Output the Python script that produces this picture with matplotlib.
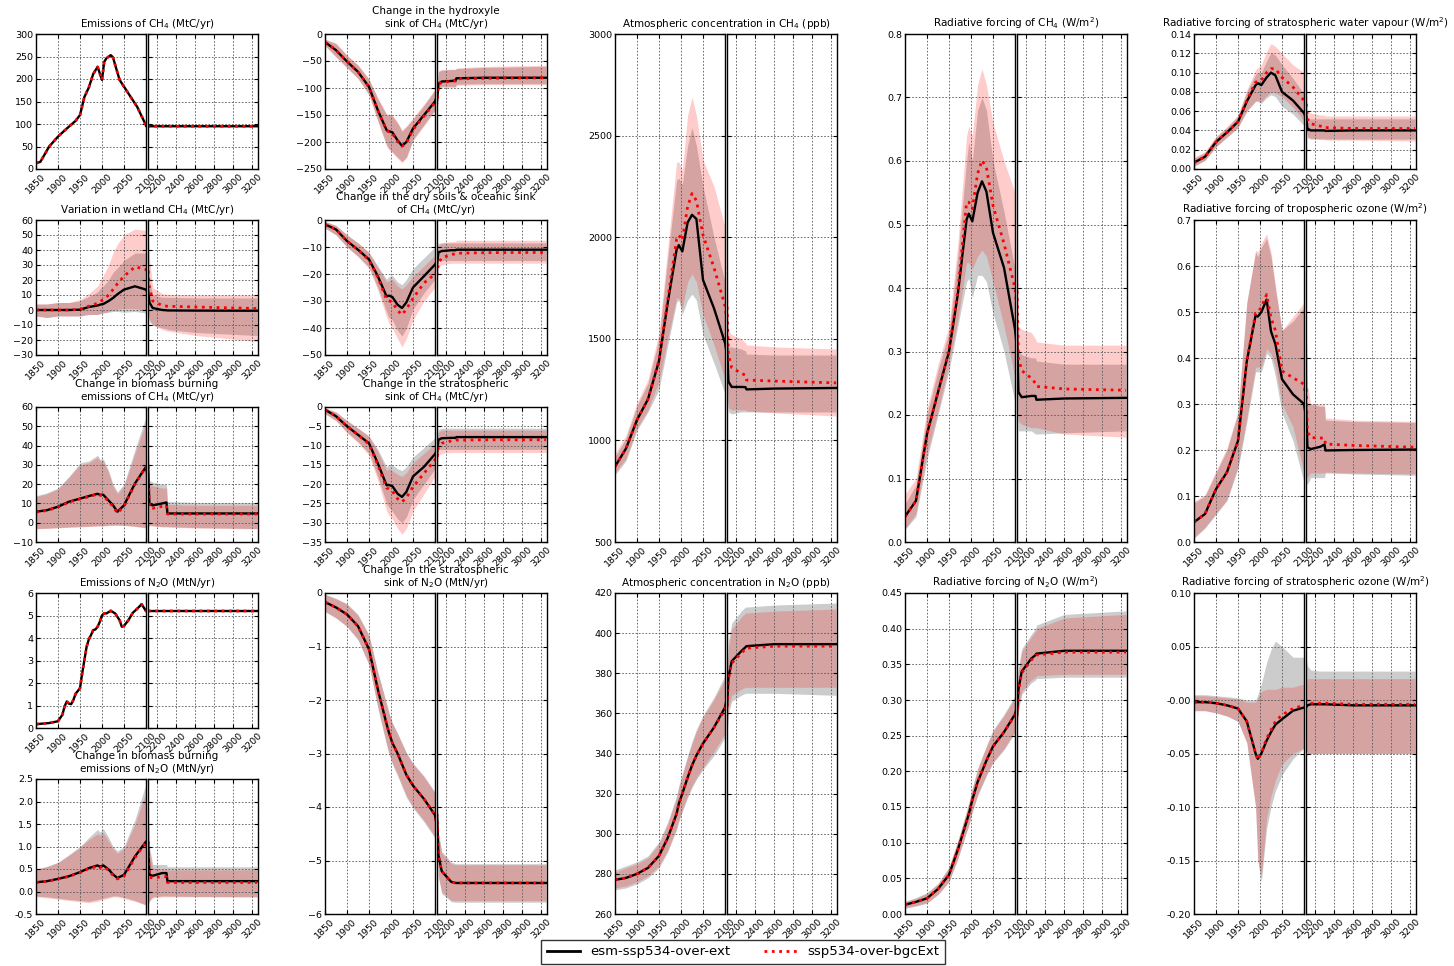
import numpy as np
import matplotlib.pyplot as plt
from matplotlib.lines import Line2D

W, H = 1454, 966

# ---------------- data ----------------
# shared time axis for the panels with uncertainty bands
yr = [1850, 1875, 1900, 1925, 1950, 1970, 1990, 1995, 2003, 2015, 2025, 2035, 2050,
      2075, 2100, 2115, 2150, 2250, 2295, 2305, 2600, 3250]

# Emissions of CH4 (no band, both runs identical)
ch4_emi_yr = [1850, 1860, 1880, 1900, 1920, 1940, 1950, 1960, 1970, 1980, 1990, 2000, 2005,
              2010, 2020, 2025, 2030, 2040, 2060, 2080, 2100, 2100.5, 3250]
ch4_emi = [12.6, 16, 50, 72, 90, 107, 120, 160, 181, 211, 227, 198, 238,
           246, 253, 248, 231, 198, 168, 138, 97, 95, 95]

# Emissions of N2O
n2o_emi_yr = [1850, 1880, 1900, 1910, 1915, 1920, 1925, 1930, 1935, 1940, 1950, 1955, 1965,
              1970, 1975, 1980, 1985, 1990, 1995, 2000, 2005, 2010, 2020, 2030, 2040, 2045,
              2050, 2060, 2070, 2080, 2090, 2100, 2100.5, 3250]
n2o_emi = [0.17, 0.22, 0.3, 0.59, 0.96, 1.18, 1.08, 1.06, 1.25, 1.52, 1.77, 2.43, 3.61,
           3.94, 4.13, 4.35, 4.38, 4.5, 4.72, 5.0, 5.1, 5.09, 5.21, 5.09, 4.79, 4.5,
           4.54, 4.79, 5.12, 5.3, 5.5, 5.2, 5.2, 5.2]

# Change in the hydroxyle sink of CH4
oh_esm = [-15, -30, -51, -70, -98, -141, -178, -180, -182, -197, -207, -200, -175, -150, -125, -92, -88, -87, -86, -82, -81, -81]
oh_ssp = [-15, -30, -51, -70, -98, -141, -179, -181, -184, -199, -208, -202, -177, -152, -127, -94, -89, -88, -87, -83, -82, -81]
oh_esm_lo = [-21, -42, -62, -82, -112, -160, -205, -212, -218, -228, -236, -228, -195, -168, -140, -100, -97, -97, -97, -93, -92, -92]
oh_esm_hi = [-10, -18, -40, -58, -84, -120, -150, -150, -152, -165, -180, -172, -158, -132, -104, -70, -67, -66, -66, -64, -62, -60]
oh_ssp_lo = [-22, -43, -63, -83, -113, -162, -208, -214, -220, -231, -238, -230, -198, -170, -142, -102, -99, -99, -99, -95, -94, -94]
oh_ssp_hi = [-9, -17, -39, -57, -83, -118, -148, -148, -150, -163, -178, -170, -155, -130, -102, -68, -66, -65, -65, -63, -60, -58]

# Variation in wetland CH4
wet_esm = [0, 0, 0, 0, 0.2, 2, 3, 3.5, 4, 6, 8, 10.5, 13.6, 15.8, 13.6, 5, 1.3, 0, -0.2, -0.3, -0.4, -0.5]
wet_ssp = [0, 0, 0, 0, 0.5, 2.5, 4.5, 5.5, 7, 10, 13.6, 17.5, 22.5, 28.8, 27, 15, 6, 3, 2.6, 2.5, 2, 1]
wet_esm_lo = [-4, -5, -4, -4, -4, -3, -3, -2.5, -2, -1.5, -1, -1, -1.5, -1, -2, -8, -10, -12, -12.5, -13, -15, -17]
wet_esm_hi = [4, 4, 5, 5, 6, 9, 12, 14, 16, 20, 25, 28, 33, 38, 38, 20, 10, 8.5, 8.5, 8.5, 8, 8]
wet_ssp_lo = [-4, -5, -4, -4, -4, -3, -3, -2.5, -2, -1, 0, 0.5, 1, 1, 0, -6, -10, -13, -14, -14, -17, -21]
wet_ssp_hi = [4, 4, 5, 5, 7, 11, 16, 19, 23, 30, 38, 44, 50, 54, 53, 35, 15, 11, 10.5, 10.5, 10, 10]

# Change in the dry soils & oceanic sink of CH4
soil_esm = [-1.6, -3.5, -7.8, -11, -14.6, -20.8, -28.3, -28, -28.5, -31.4, -32.6, -30.5, -25, -20.8, -16.5, -12, -11.5, -11.2, -11.2, -11, -11, -11]
soil_ssp = [-1.6, -3.5, -7.8, -11, -14.8, -21.2, -29.5, -29.8, -30.5, -33.5, -35.1, -33, -29, -23.3, -20, -16, -14, -12.8, -12.5, -12.3, -12.1, -12]
soil_esm_lo = [-3, -5.5, -10, -13.5, -17.5, -25, -34, -36, -37, -41, -43, -40, -33, -27, -22, -15, -15, -15, -15, -15, -15, -15]
soil_esm_hi = [-0.5, -2, -5.5, -8.5, -12, -17, -22, -21, -20.5, -23, -24, -22, -18, -14, -10, -8.5, -8.5, -8.5, -8.5, -8.5, -8.5, -8.5]
soil_ssp_lo = [-3, -5.5, -10, -13.5, -18, -26, -36, -38, -40, -44, -47, -44, -37, -30, -25, -17.5, -16.5, -16, -16, -16, -16, -16]
soil_ssp_hi = [-0.5, -2, -5.5, -8.5, -12, -17.5, -23, -22.5, -22, -24.5, -25.5, -24, -21, -17, -13, -9.5, -8.5, -8, -8, -7.5, -7.5, -7.5]

# Change in biomass burning emissions of CH4
bb4_esm = [5.7, 6.5, 8.3, 10.9, 12.5, 13.8, 15, 14.5, 14.5, 11.5, 9.1, 5.7, 9, 20.4, 29, 9.5, 9, 10, 10.5, 4.8, 4.8, 4.8]
bb4_ssp = [5.5, 6.3, 8.1, 10.7, 12.3, 13.5, 14.8, 14.3, 14, 11, 8.5, 5, 8.5, 20, 29, 8, 7.5, 8.5, 9, 4.5, 4.5, 4.5]
bb4_esm_lo = [-3, -2.8, -2.5, -2.2, -2, -1.8, -1.5, -1.5, -1.5, -1.3, -1.2, -1.2, -1.3, -1.8, -2.5, -1.2, -1.5, -2, -2, -2, -2.5, -3]
bb4_esm_hi = [14, 15.5, 18, 24, 31, 32, 35, 33, 33, 27, 20, 16, 20, 38, 55, 22, 21, 20, 20, 11, 10.5, 10.5]
bb4_ssp_lo = [-3.2, -3, -2.7, -2.4, -2.2, -2, -1.8, -1.8, -1.8, -1.5, -1.4, -1.4, -1.5, -2, -2.8, -1.5, -1.8, -2.2, -2.2, -2.3, -2.8, -3.2]
bb4_ssp_hi = [13.5, 15, 17.5, 23.5, 30, 31, 34, 32, 32, 26, 19, 15, 19, 36, 52, 20, 19, 18, 18, 9.5, 9, 9]

# Change in the stratospheric sink of CH4
st4_esm = [-0.7, -2.4, -5, -7.2, -9.4, -14.6, -20.3, -20.2, -20.5, -22.5, -23.3, -22, -18, -15.5, -12.2, -8.5, -8.1, -8, -8, -7.8, -7.8, -7.8]
st4_ssp = [-0.7, -2.4, -5, -7.2, -9.6, -15, -21, -21.2, -21.8, -23.8, -24.6, -23.5, -20.7, -17.2, -13.7, -10.3, -9.4, -8.8, -8.7, -8.6, -8.5, -8.5]
st4_esm_lo = [-1.7, -3.5, -6.5, -9, -12, -18, -25, -26, -27, -29, -30, -28.5, -24, -20, -16, -11, -11, -11, -11, -11, -11, -11]
st4_esm_hi = [-0.2, -1.3, -3.5, -5.5, -7.5, -11, -15.5, -15, -15, -16, -16.5, -15.5, -13, -10.5, -8, -5.8, -5.5, -5.5, -5.5, -5.5, -5.5, -5.5]
st4_ssp_lo = [-1.8, -3.6, -6.7, -9.3, -12.5, -19, -27, -28, -29, -31.5, -33, -31.5, -27, -22.5, -18, -12.5, -12, -11.8, -11.8, -11.8, -11.8, -11.8]
st4_ssp_hi = [-0.2, -1.3, -3.5, -5.5, -7.6, -11.5, -16.5, -16, -16.5, -17.5, -18, -17, -14.5, -12, -9.5, -6.5, -6, -6, -6, -6, -6, -6]

# Change in biomass burning emissions of N2O
bbn_esm = [0.204, 0.23, 0.28, 0.34, 0.43, 0.52, 0.58, 0.55, 0.58, 0.49, 0.38, 0.30, 0.37, 0.78, 1.11, 0.37, 0.35, 0.41, 0.41, 0.23, 0.23, 0.23]
bbn_ssp = [0.2, 0.225, 0.275, 0.335, 0.42, 0.51, 0.56, 0.53, 0.56, 0.47, 0.36, 0.28, 0.34, 0.75, 1.1, 0.32, 0.30, 0.33, 0.33, 0.20, 0.20, 0.20]
bbn_esm_lo = [-0.1, -0.12, -0.15, -0.18, -0.2, -0.22, -0.18, -0.17, -0.15, -0.12, -0.1, -0.1, -0.13, -0.2, -0.3, -0.2, -0.12, -0.1, -0.1, -0.1, -0.11, -0.12]
bbn_esm_hi = [0.5, 0.56, 0.65, 0.82, 1.0, 1.2, 1.38, 1.32, 1.4, 1.2, 1.0, 0.9, 1.0, 1.6, 2.4, 1.0, 0.6, 0.6, 0.6, 0.55, 0.55, 0.55]
bbn_ssp_lo = [-0.12, -0.14, -0.17, -0.2, -0.23, -0.25, -0.22, -0.2, -0.18, -0.15, -0.12, -0.12, -0.16, -0.22, -0.3, -0.22, -0.14, -0.12, -0.12, -0.12, -0.12, -0.12]
bbn_ssp_hi = [0.5, 0.55, 0.64, 0.8, 0.98, 1.15, 1.28, 1.25, 1.3, 1.12, 0.95, 0.85, 0.95, 1.5, 2.2, 0.9, 0.52, 0.5, 0.5, 0.48, 0.48, 0.48]

# Change in the stratospheric sink of N2O
stn_esm = [-0.17, -0.27, -0.4, -0.62, -1.05, -1.8, -2.45, -2.6, -2.8, -3.0, -3.2, -3.4, -3.6, -3.85, -4.15, -4.9, -5.2, -5.4, -5.42, -5.42, -5.42, -5.42]
stn_ssp = stn_esm
stn_esm_lo = [-0.35, -0.47, -0.63, -0.88, -1.35, -2.15, -2.85, -3.0, -3.2, -3.42, -3.62, -3.82, -4.02, -4.28, -4.58, -5.32, -5.62, -5.77, -5.78, -5.78, -5.78, -5.78]
stn_esm_hi = [-0.02, -0.1, -0.2, -0.4, -0.78, -1.47, -2.07, -2.22, -2.42, -2.62, -2.8, -2.98, -3.18, -3.42, -3.72, -4.48, -4.83, -5.03, -5.06, -5.06, -5.06, -5.06]
stn_ssp_lo = [-0.34, -0.46, -0.62, -0.86, -1.33, -2.12, -2.82, -2.97, -3.17, -3.39, -3.59, -3.79, -3.99, -4.25, -4.55, -5.29, -5.59, -5.74, -5.75, -5.75, -5.75, -5.75]
stn_ssp_hi = [-0.03, -0.11, -0.21, -0.42, -0.8, -1.49, -2.09, -2.24, -2.44, -2.64, -2.82, -3.0, -3.2, -3.44, -3.74, -4.5, -4.86, -5.06, -5.08, -5.08, -5.08, -5.08]

# Atmospheric concentration in CH4
ch4c_esm = [871, 960, 1101, 1203, 1391, 1680, 1939, 1961, 1930, 2072, 2110, 2090, 1790, 1650, 1480, 1289, 1263, 1263, 1262, 1251, 1255, 1258]
ch4c_ssp = [871, 960, 1101, 1203, 1395, 1695, 1990, 2010, 1985, 2150, 2215, 2180, 2010, 1850, 1663, 1420, 1357, 1331, 1320, 1297, 1292, 1283]
ch4c_esm_lo = [830, 900, 1050, 1140, 1250, 1470, 1680, 1690, 1620, 1690, 1720, 1690, 1520, 1380, 1230, 1140, 1130, 1140, 1140, 1140, 1140, 1140]
ch4c_esm_hi = [920, 1010, 1170, 1280, 1500, 1900, 2280, 2290, 2260, 2450, 2540, 2450, 2250, 2000, 1780, 1460, 1460, 1450, 1440, 1425, 1420, 1420]
ch4c_ssp_lo = [840, 910, 1060, 1150, 1290, 1500, 1700, 1700, 1650, 1780, 1820, 1780, 1620, 1470, 1300, 1160, 1150, 1150, 1150, 1145, 1135, 1120]
ch4c_ssp_hi = [935, 1025, 1185, 1300, 1530, 1950, 2370, 2370, 2330, 2600, 2690, 2600, 2380, 2250, 2050, 1540, 1520, 1500, 1480, 1470, 1460, 1450]

# Atmospheric concentration in N2O
n2oc_esm = [277, 278, 280, 283, 289, 298, 310, 315, 320, 328, 334, 339, 345, 353, 363, 378, 386, 391, 393, 393.5, 394.5, 394.5]
n2oc_ssp = [277, 278, 280, 283, 289, 298, 310, 315, 320, 328, 334, 339, 345, 353, 362, 377, 385, 390, 392, 392.5, 393.5, 393.5]
n2oc_esm_lo = [272, 273, 275, 278, 283, 291, 302, 306, 311, 318, 323, 327, 332, 339, 348, 360, 366, 369, 370, 370, 370, 369]
n2oc_esm_hi = [282, 284, 286, 289, 296, 306, 319, 324, 330, 339, 346, 352, 359, 368, 379, 396, 405, 411, 413, 413, 414, 415]
n2oc_ssp_lo = [273, 274, 276, 279, 284, 292, 303, 307, 312, 319, 324, 328, 333, 341, 350, 363, 369, 372, 373, 373, 373, 373]
n2oc_ssp_hi = [281, 283, 285, 288, 295, 305, 318, 323, 329, 338, 345, 351, 358, 367, 377, 393, 402, 408, 410, 410, 411, 412]

# Radiative forcing of CH4
rf4_esm = [0.040, 0.065, 0.17, 0.236, 0.30, 0.39, 0.508, 0.517, 0.505, 0.55, 0.568, 0.552, 0.487, 0.432, 0.335, 0.236, 0.228, 0.23, 0.23, 0.224, 0.226, 0.227]
rf4_ssp = [0.040, 0.065, 0.17, 0.236, 0.302, 0.395, 0.535, 0.535, 0.525, 0.58, 0.601, 0.59, 0.53, 0.47, 0.40, 0.29, 0.27, 0.258, 0.25, 0.245, 0.241, 0.239]
rf4_esm_lo = [0.02, 0.04, 0.13, 0.2, 0.27, 0.34, 0.41, 0.415, 0.385, 0.42, 0.42, 0.41, 0.36, 0.30, 0.22, 0.175, 0.175, 0.175, 0.17, 0.17, 0.172, 0.175]
rf4_esm_hi = [0.06, 0.09, 0.2, 0.27, 0.33, 0.45, 0.6, 0.63, 0.6, 0.68, 0.7, 0.68, 0.6, 0.52, 0.43, 0.3, 0.295, 0.29, 0.29, 0.285, 0.28, 0.28]
rf4_ssp_lo = [0.02, 0.045, 0.14, 0.205, 0.28, 0.35, 0.44, 0.44, 0.43, 0.45, 0.46, 0.45, 0.41, 0.34, 0.26, 0.19, 0.185, 0.18, 0.18, 0.18, 0.17, 0.165]
rf4_ssp_hi = [0.075, 0.1, 0.21, 0.28, 0.34, 0.47, 0.64, 0.655, 0.64, 0.72, 0.745, 0.72, 0.66, 0.6, 0.55, 0.34, 0.335, 0.33, 0.32, 0.315, 0.31, 0.31]

# Radiative forcing of N2O
rfn_esm = [0.013, 0.017, 0.022, 0.035, 0.055, 0.09, 0.13, 0.14, 0.16, 0.185, 0.20, 0.215, 0.235, 0.255, 0.28, 0.315, 0.34, 0.358, 0.363, 0.365, 0.369, 0.369]
rfn_ssp = [0.013, 0.017, 0.022, 0.035, 0.055, 0.09, 0.13, 0.14, 0.16, 0.185, 0.20, 0.215, 0.235, 0.255, 0.279, 0.313, 0.338, 0.356, 0.361, 0.363, 0.367, 0.367]
rfn_esm_lo = [0.008, 0.011, 0.015, 0.027, 0.045, 0.077, 0.115, 0.124, 0.143, 0.166, 0.18, 0.194, 0.212, 0.23, 0.254, 0.285, 0.308, 0.324, 0.328, 0.33, 0.332, 0.332]
rfn_esm_hi = [0.018, 0.023, 0.03, 0.043, 0.066, 0.103, 0.145, 0.156, 0.177, 0.204, 0.22, 0.236, 0.258, 0.28, 0.306, 0.345, 0.372, 0.392, 0.4, 0.405, 0.42, 0.425]
rfn_ssp_lo = [0.009, 0.012, 0.016, 0.028, 0.046, 0.078, 0.116, 0.125, 0.144, 0.167, 0.181, 0.195, 0.213, 0.232, 0.256, 0.288, 0.312, 0.328, 0.332, 0.334, 0.336, 0.336]
rfn_ssp_hi = [0.017, 0.022, 0.029, 0.042, 0.065, 0.102, 0.144, 0.155, 0.176, 0.203, 0.219, 0.234, 0.256, 0.278, 0.303, 0.34, 0.368, 0.388, 0.396, 0.4, 0.415, 0.42]

# Radiative forcing of stratospheric water vapour
wv_esm = [0.0066, 0.0127, 0.028, 0.038, 0.049, 0.070, 0.087, 0.089, 0.087, 0.095, 0.100, 0.097, 0.080, 0.071, 0.058, 0.042, 0.040, 0.040, 0.040, 0.0395, 0.040, 0.040]
wv_ssp = [0.0066, 0.0127, 0.028, 0.038, 0.049, 0.071, 0.090, 0.091, 0.092, 0.100, 0.104, 0.104, 0.095, 0.085, 0.071, 0.052, 0.047, 0.0445, 0.044, 0.043, 0.042, 0.042]
wv_esm_lo = [0.003, 0.009, 0.023, 0.033, 0.043, 0.060, 0.070, 0.07, 0.068, 0.074, 0.077, 0.075, 0.065, 0.057, 0.045, 0.032, 0.031, 0.031, 0.031, 0.031, 0.031, 0.031]
wv_esm_hi = [0.011, 0.017, 0.033, 0.043, 0.055, 0.08, 0.098, 0.1, 0.1, 0.112, 0.121, 0.118, 0.108, 0.094, 0.078, 0.052, 0.052, 0.052, 0.052, 0.052, 0.052, 0.052]
wv_ssp_lo = [0.003, 0.009, 0.023, 0.033, 0.043, 0.06, 0.071, 0.071, 0.07, 0.076, 0.08, 0.079, 0.075, 0.064, 0.05, 0.034, 0.032, 0.031, 0.031, 0.030, 0.030, 0.029]
wv_ssp_hi = [0.012, 0.018, 0.034, 0.044, 0.056, 0.082, 0.103, 0.105, 0.108, 0.122, 0.13, 0.127, 0.12, 0.108, 0.10, 0.06, 0.058, 0.056, 0.056, 0.055, 0.055, 0.055]

# Radiative forcing of tropospheric ozone
o3t_esm = [0.043, 0.061, 0.115, 0.152, 0.22, 0.393, 0.493, 0.49, 0.50, 0.527, 0.458, 0.43, 0.354, 0.321, 0.30, 0.206, 0.202, 0.207, 0.212, 0.199, 0.20, 0.201]
o3t_ssp = [0.043, 0.061, 0.115, 0.152, 0.22, 0.393, 0.498, 0.50, 0.51, 0.538, 0.487, 0.46, 0.372, 0.357, 0.343, 0.24, 0.227, 0.226, 0.226, 0.213, 0.21, 0.206]
o3t_esm_lo = [0.008, 0.03, 0.06, 0.09, 0.16, 0.26, 0.37, 0.37, 0.37, 0.41, 0.40, 0.36, 0.28, 0.22, 0.13, 0.125, 0.14, 0.14, 0.14, 0.15, 0.148, 0.145]
o3t_esm_hi = [0.085, 0.10, 0.15, 0.2, 0.28, 0.52, 0.63, 0.62, 0.64, 0.66, 0.62, 0.55, 0.46, 0.48, 0.51, 0.30, 0.30, 0.295, 0.295, 0.265, 0.262, 0.26]
o3t_ssp_lo = [0.01, 0.032, 0.062, 0.092, 0.165, 0.27, 0.38, 0.38, 0.38, 0.42, 0.41, 0.38, 0.30, 0.25, 0.15, 0.14, 0.15, 0.15, 0.15, 0.152, 0.15, 0.148]
o3t_ssp_hi = [0.088, 0.103, 0.155, 0.205, 0.285, 0.52, 0.635, 0.63, 0.65, 0.67, 0.63, 0.56, 0.46, 0.49, 0.52, 0.34, 0.30, 0.30, 0.30, 0.27, 0.265, 0.262]

# Radiative forcing of stratospheric ozone
o3s_esm = [-0.002, -0.002, -0.003, -0.005, -0.008, -0.02, -0.05, -0.055, -0.05, -0.038, -0.03, -0.023, -0.018, -0.01, -0.007, -0.005, -0.004, -0.004, -0.004, -0.004, -0.005, -0.005]
o3s_ssp = [-0.002, -0.002, -0.003, -0.005, -0.008, -0.02, -0.05, -0.056, -0.05, -0.036, -0.028, -0.02, -0.014, -0.008, -0.005, -0.004, -0.003, -0.003, -0.003, -0.003, -0.004, -0.004]
o3s_esm_lo = [-0.01, -0.01, -0.012, -0.015, -0.02, -0.04, -0.1, -0.15, -0.17, -0.12, -0.1, -0.085, -0.07, -0.055, -0.045, -0.05, -0.05, -0.05, -0.05, -0.05, -0.05, -0.05]
o3s_esm_hi = [0.005, 0.005, 0.004, 0.003, 0.002, 0.0, 0.0, 0.005, 0.015, 0.035, 0.047, 0.055, 0.05, 0.04, 0.04, 0.032, 0.028, 0.027, 0.027, 0.027, 0.027, 0.027]
o3s_ssp_lo = [-0.01, -0.01, -0.012, -0.015, -0.02, -0.04, -0.1, -0.15, -0.165, -0.11, -0.09, -0.075, -0.06, -0.05, -0.045, -0.05, -0.05, -0.05, -0.05, -0.05, -0.05, -0.05]
o3s_ssp_hi = [0.004, 0.004, 0.003, 0.002, 0.001, -0.002, -0.002, 0.002, 0.008, 0.01, 0.01, 0.01, 0.012, 0.012, 0.015, 0.02, 0.02, 0.02, 0.02, 0.02, 0.02, 0.02]

# ---------------- layout ----------------
col_x = [36, 325, 615, 905, 1194]   # left edge of each panel (px)
row_y = [34, 220, 407, 593, 779]    # top edge of each row (px)
row_h = 135
half_w = 110

plt.rcParams['font.family'] = 'DejaVu Sans'
plt.rcParams['axes.linewidth'] = 1.0

fig = plt.figure(figsize=(W / 100, H / 100), dpi=100)
fig.patch.set_facecolor('white')

GREY = 'grey'
RED = 'red'


def style_axis(ax):
    ax.tick_params(direction='in', length=3, width=0.8, labelsize=6.8,
                   top=True, right=True, pad=2)
    ax.grid(True, color='0.35', linestyle=(0, (2, 2)), linewidth=0.6)
    for s in ax.spines.values():
        s.set_color('black')


def panel(col, r0, r1, title, ylim, yticks, esm, ssp, bands=None, x=yr, yfmt=None):
    top = row_y[r0]
    bot = row_y[r1] + row_h
    axL = fig.add_axes([col_x[col] / W, 1 - bot / H, half_w / W, (bot - top) / H])
    axR = fig.add_axes([(col_x[col] + half_w + 2) / W, 1 - bot / H, half_w / W, (bot - top) / H],
                       sharey=axL)
    for ax in (axL, axR):
        if bands is not None:
            ax.fill_between(x, bands[0], bands[1], color=GREY, alpha=0.4, lw=0)
            ax.fill_between(x, bands[2], bands[3], color=RED, alpha=0.2, lw=0)
        ax.plot(x, esm, color='black', lw=1.7)
        ax.plot(x, ssp, color=RED, lw=2.0, linestyle=':')
        style_axis(ax)
    axL.set_xlim(1850, 2100)
    axR.set_xlim(2100, 3260)
    axL.set_ylim(*ylim)
    axL.set_yticks(yticks)
    if yfmt:
        axL.set_yticklabels([yfmt.format(v) for v in yticks])
    axL.set_xticks([1850, 1900, 1950, 2000, 2050, 2100])
    axR.set_xticks([2200, 2400, 2600, 2800, 3000, 3200])
    for ax in (axL, axR):
        for lab in ax.get_xticklabels():
            lab.set_rotation(45)
    axR.tick_params(labelleft=False)
    fig.text((col_x[col] + half_w + 1) / W, 1 - (top - 3) / H, title,
             ha='center', va='bottom', fontsize=7.5, linespacing=1.1)
    return axL, axR


# column 1
panel(0, 0, 0, 'Emissions of CH$_4$ (MtC/yr)', (0, 300), range(0, 301, 50),
      ch4_emi, ch4_emi, x=ch4_emi_yr)
panel(0, 1, 1, 'Variation in wetland CH$_4$ (MtC/yr)', (-30, 60), range(-30, 61, 10),
      wet_esm, wet_ssp, (wet_esm_lo, wet_esm_hi, wet_ssp_lo, wet_ssp_hi))
panel(0, 2, 2, 'Change in biomass burning\nemissions of CH$_4$ (MtC/yr)', (-10, 60), range(-10, 61, 10),
      bb4_esm, bb4_ssp, (bb4_esm_lo, bb4_esm_hi, bb4_ssp_lo, bb4_ssp_hi))
panel(0, 3, 3, 'Emissions of N$_2$O (MtN/yr)', (0, 6), range(0, 7),
      n2o_emi, n2o_emi, x=n2o_emi_yr)
panel(0, 4, 4, 'Change in biomass burning\nemissions of N$_2$O (MtN/yr)', (-0.5, 2.5),
      np.arange(-0.5, 2.51, 0.5), bbn_esm, bbn_ssp,
      (bbn_esm_lo, bbn_esm_hi, bbn_ssp_lo, bbn_ssp_hi), yfmt='{:.1f}')

# column 2
panel(1, 0, 0, 'Change in the hydroxyle\nsink of CH$_4$ (MtC/yr)', (-250, 0), range(-250, 1, 50),
      oh_esm, oh_ssp, (oh_esm_lo, oh_esm_hi, oh_ssp_lo, oh_ssp_hi))
panel(1, 1, 1, 'Change in the dry soils & oceanic sink\nof CH$_4$ (MtC/yr)', (-50, 0), range(-50, 1, 10),
      soil_esm, soil_ssp, (soil_esm_lo, soil_esm_hi, soil_ssp_lo, soil_ssp_hi))
panel(1, 2, 2, 'Change in the stratospheric\nsink of CH$_4$ (MtC/yr)', (-35, 0), range(-35, 1, 5),
      st4_esm, st4_ssp, (st4_esm_lo, st4_esm_hi, st4_ssp_lo, st4_ssp_hi))
panel(1, 3, 4, 'Change in the stratospheric\nsink of N$_2$O (MtN/yr)', (-6, 0), range(-6, 1),
      stn_esm, stn_ssp, (stn_esm_lo, stn_esm_hi, stn_ssp_lo, stn_ssp_hi))

# column 3
panel(2, 0, 2, 'Atmospheric concentration in CH$_4$ (ppb)', (500, 3000), range(500, 3001, 500),
      ch4c_esm, ch4c_ssp, (ch4c_esm_lo, ch4c_esm_hi, ch4c_ssp_lo, ch4c_ssp_hi))
panel(2, 3, 4, 'Atmospheric concentration in N$_2$O (ppb)', (260, 420), range(260, 421, 20),
      n2oc_esm, n2oc_ssp, (n2oc_esm_lo, n2oc_esm_hi, n2oc_ssp_lo, n2oc_ssp_hi))

# column 4
panel(3, 0, 2, 'Radiative forcing of CH$_4$ (W/m$^2$)', (0, 0.8), np.arange(0, 0.81, 0.1),
      rf4_esm, rf4_ssp, (rf4_esm_lo, rf4_esm_hi, rf4_ssp_lo, rf4_ssp_hi), yfmt='{:.1f}')
panel(3, 3, 4, 'Radiative forcing of N$_2$O (W/m$^2$)', (0, 0.45), np.arange(0, 0.451, 0.05),
      rfn_esm, rfn_ssp, (rfn_esm_lo, rfn_esm_hi, rfn_ssp_lo, rfn_ssp_hi), yfmt='{:.2f}')

# column 5
panel(4, 0, 0, 'Radiative forcing of stratospheric water vapour (W/m$^2$)', (0, 0.14),
      np.arange(0, 0.141, 0.02), wv_esm, wv_ssp,
      (wv_esm_lo, wv_esm_hi, wv_ssp_lo, wv_ssp_hi), yfmt='{:.2f}')
panel(4, 1, 2, 'Radiative forcing of tropospheric ozone (W/m$^2$)', (0, 0.7),
      np.arange(0, 0.71, 0.1), o3t_esm, o3t_ssp,
      (o3t_esm_lo, o3t_esm_hi, o3t_ssp_lo, o3t_ssp_hi), yfmt='{:.1f}')
panel(4, 3, 4, 'Radiative forcing of stratospheric ozone (W/m$^2$)', (-0.2, 0.1),
      np.arange(-0.2, 0.101, 0.05), o3s_esm, o3s_ssp,
      (o3s_esm_lo, o3s_esm_hi, o3s_ssp_lo, o3s_ssp_hi), yfmt='{:.2f}')

handles = [Line2D([], [], color='black', lw=2),
           Line2D([], [], color=RED, lw=2, linestyle=':')]
leg = fig.legend(handles, ['esm-ssp534-over-ext', 'ssp534-over-bgcExt'],
                 loc='center', bbox_to_anchor=(743 / W, 1 - 952 / H), ncol=2,
                 fontsize=9.5, frameon=True, fancybox=False, edgecolor='black',
                 handlelength=2.5, columnspacing=2.5, borderpad=0.45)
leg.get_frame().set_linewidth(1.0)

fig.savefig('out.png', dpi=100, facecolor='white')
